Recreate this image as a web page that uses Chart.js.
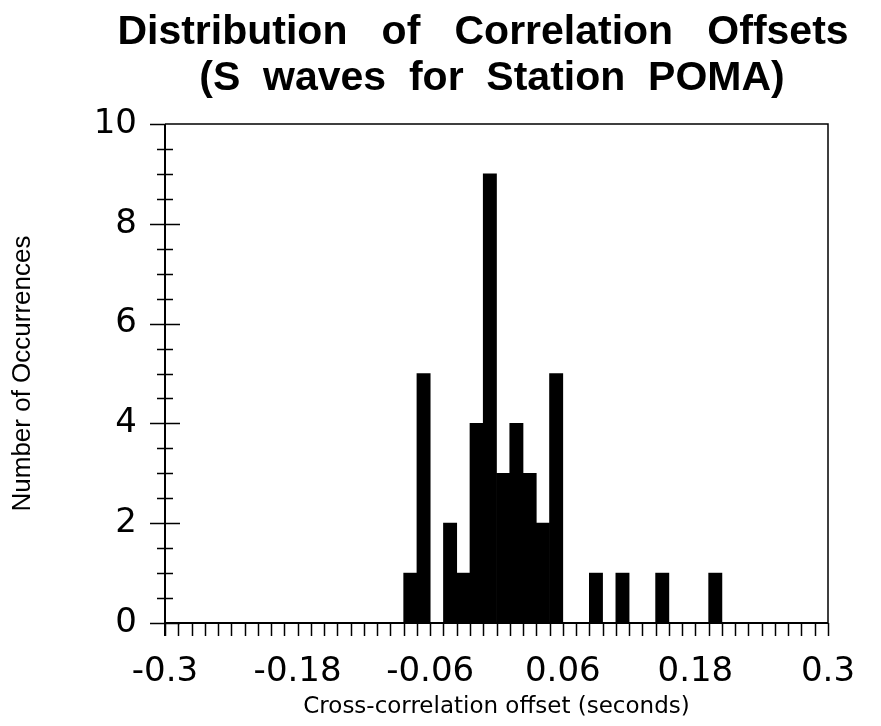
<!DOCTYPE html>
<html>
<head>
<meta charset="utf-8">
<title>Distribution of Correlation Offsets</title>
<script src="https://cdn.jsdelivr.net/npm/chart.js@4"></script>
<style>
  html, body { margin: 0; padding: 0; background: #fff; }
  canvas { display: block; }
</style>
</head>
<body>
<canvas id="offsetChart" width="881" height="726"></canvas>
<script>
// Données (centres de classes de 0.012 s, classes vides omises)
const binCenters = [-0.078, -0.066, -0.042, -0.030, -0.018, -0.006, 0.006, 0.018, 0.030, 0.042, 0.054, 0.090, 0.114, 0.150, 0.198];
const counts = [1, 5, 2, 1, 4, 9, 3, 4, 3, 2, 5, 1, 1, 1, 1];

const xTickValues = [-0.3, -0.18, -0.06, 0.06, 0.18, 0.3];
const xTickLabels = ['-0.3', '-0.18', '-0.06', '0.06', '0.18', '0.3'];
const yTickValues = [0, 2, 4, 6, 8, 10];
const yTickLabels = ['0', '2', '4', '6', '8', '10'];

const titleLines = ['Distribution   of   Correlation   Offsets', '(S  waves  for  Station  POMA)'];
const xTitle = 'Cross-correlation offset (seconds)';
const yTitle = 'Number of Occurrences';

// Pas des petites graduations
const xMinorStep = 0.012;
const yMinorStep = 0.5;

// Titre dessiné à la main (le titre Chart.js est toujours centré sur tout le canvas)
const titlePlugin = {
    id: 'customTitle',
    afterDraw(chart) {
        const ctx = chart.ctx;
        ctx.save();
        ctx.fillStyle = '#000';
        ctx.font = 'bold 41px "Liberation Sans", Arial, sans-serif';
        ctx.textAlign = 'center';
        ctx.textBaseline = 'middle';
        ctx.fillText(titleLines[0], 483, 33);
        ctx.fillText(titleLines[1], 492, 79);
        ctx.restore();
    }
};

// Axes, cadre et graduations (croisées sur l'axe Y)
const framePlugin = {
    id: 'frameTicks',
    afterDatasetsDraw(chart) {
        const ctx = chart.ctx;
        const area = chart.chartArea;
        const xs = chart.scales.x;
        const ys = chart.scales.y;
        ctx.save();
        ctx.strokeStyle = '#000';

        // cadre haut + droite
        ctx.lineWidth = 1.5;
        ctx.beginPath();
        ctx.moveTo(area.left, area.top);
        ctx.lineTo(area.right, area.top);
        ctx.lineTo(area.right, area.bottom);
        ctx.stroke();

        // axes
        ctx.lineWidth = 2;
        ctx.beginPath();
        ctx.moveTo(area.left, area.top);
        ctx.lineTo(area.left, area.bottom + 13);
        ctx.moveTo(area.left, area.bottom);
        ctx.lineTo(area.right, area.bottom);
        ctx.stroke();

        // graduations X (vers le bas)
        ctx.lineWidth = 1.5;
        ctx.beginPath();
        for (let v = xs.min; v <= xs.max + 1e-9; v += xMinorStep) {
            const px = Math.round(xs.getPixelForValue(v)) + 0.5;
            ctx.moveTo(px, area.bottom);
            ctx.lineTo(px, area.bottom + 13);
        }
        ctx.stroke();

        // graduations Y (de part et d'autre de l'axe)
        ctx.beginPath();
        for (let v = ys.min; v <= ys.max + 1e-9; v += yMinorStep) {
            const py = Math.round(ys.getPixelForValue(v)) + 0.5;
            const major = Math.abs(v / 2 - Math.round(v / 2)) < 1e-6;
            const len = major ? 15 : 8;
            ctx.moveTo(area.left - len, py);
            ctx.lineTo(area.left + (v >= ys.max ? 0 : len), py);
        }
        ctx.stroke();
        ctx.restore();
    }
};

const ctx = document.getElementById('offsetChart').getContext('2d');
new Chart(ctx, {
    type: 'bar',
    data: {
        datasets: [{
            data: binCenters.map((x, i) => ({ x: x, y: counts[i] })),
            backgroundColor: '#000',
            borderWidth: 0,
            barPercentage: 1.0,
            categoryPercentage: 1.0
        }]
    },
    options: {
        responsive: false,
        animation: false,
        layout: {
            padding: { top: 124, right: 53, left: 0, bottom: 0 }
        },
        plugins: {
            legend: { display: false },
            title: { display: false },
            tooltip: { enabled: false }
        },
        scales: {
            x: {
                type: 'linear',
                min: -0.3,
                max: 0.3,
                offset: false,
                grid: { display: false },
                border: { display: false },
                afterBuildTicks: (scale) => {
                    scale.ticks = xTickValues.map(v => ({ value: v }));
                },
                afterFit: (scale) => { scale.height = 103; },
                ticks: {
                    autoSkip: false,
                    maxRotation: 0,
                    padding: 21,
                    color: '#000',
                    font: { family: '"DejaVu Sans", sans-serif', size: 34 },
                    callback: (value, index) => xTickLabels[index]
                },
                title: {
                    display: true,
                    text: xTitle,
                    color: '#000',
                    font: { family: '"DejaVu Sans", sans-serif', size: 23 },
                    padding: { top: 0, bottom: 5 }
                }
            },
            y: {
                min: 0,
                max: 10,
                grid: { display: false },
                border: { display: false },
                afterBuildTicks: (scale) => {
                    scale.ticks = yTickValues.map(v => ({ value: v }));
                },
                afterFit: (scale) => { scale.width = 165; },
                ticks: {
                    padding: 20,
                    color: '#000',
                    font: { family: '"DejaVu Sans", sans-serif', size: 34 },
                    callback: (value, index) => yTickLabels[index]
                },
                title: {
                    display: true,
                    text: yTitle,
                    color: '#000',
                    font: { family: '"Liberation Sans", Arial, sans-serif', size: 26 },
                    padding: { top: 7, bottom: 0 }
                }
            }
        }
    },
    plugins: [titlePlugin, framePlugin]
});
</script>
</body>
</html>
